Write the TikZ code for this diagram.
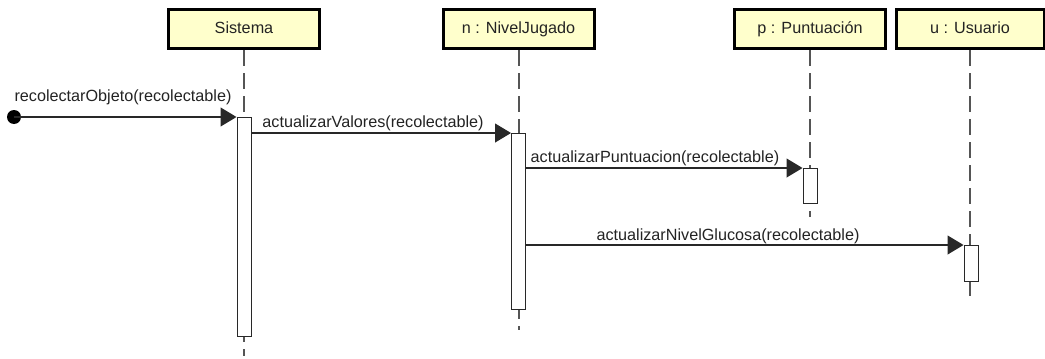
\documentclass[tikz,border=0pt]{standalone}
\usepackage{fontspec}
\setmainfont{Liberation Sans}
\usetikzlibrary{arrows.meta}
\definecolor{boxfill}{RGB}{255,255,204}
\definecolor{lifegray}{RGB}{85,85,85}
\definecolor{txt}{RGB}{35,35,35}
\definecolor{linecol}{RGB}{40,40,40}
\begin{document}
\begin{tikzpicture}[x=1pt,y=-1pt,
  objbox/.style={draw=black, line width=3pt, fill=boxfill, minimum width=151pt,
    minimum height=39pt, inner sep=0pt, text height=11.3pt, text depth=3pt,
    font=\fontsize{16.2}{18}\selectfont, text=txt},
  lifeline/.style={draw=lifegray, line width=2pt, dash pattern=on 16pt off 7pt},
  actbox/.style={draw=linecol, line width=1pt, fill=white, minimum width=14pt,
    inner sep=0pt, anchor=north},
  msg/.style={draw=linecol, line width=1.2pt, -{Triangle[length=16pt,width=19pt]}},
  msglabel/.style={font=\fontsize{16.2}{18}\selectfont, text=txt, anchor=base, inner sep=0pt},
  startdot/.style={circle, fill=black, minimum size=14pt, inner sep=0pt}]
\useasboundingbox (0,0) rectangle (1045,359);

% object boxes
\node[objbox] (sis) at (244,29) {Sistema};
\node[objbox] (niv) at (518.5,29) {n : NivelJugado};
\node[objbox] (pun) at (810,29) {p : Puntuación};
\node[objbox, minimum width=148pt] (usu) at (970,29) {u : Usuario};

% lifeline ends
\coordinate (sisend) at (244,356);
\coordinate (nivend) at (518.5,330);
\coordinate (punend) at (810,217);
\coordinate (usuend) at (970,302);

\draw[lifeline] (sis.south) -- (sisend);
\draw[lifeline] (niv.south) -- (nivend);
\draw[lifeline] (pun.south) -- (punend);
\draw[lifeline] (usu.south) -- (usuend);

% activations
\node[actbox, minimum height=219pt] (actS) at (244,117) {};
\node[actbox, minimum height=176pt] (actN) at (518.5,133) {};
\node[actbox, minimum height=35pt] (actP) at (810,168) {};
\node[actbox, minimum height=36pt] (actU) at (971,245) {};

% start
\node[startdot] (start) at (14,117) {};

% messages
\draw[msg] (start.center) -- (actS.north west);
\draw[msg] (actS.east |- actN.north) -- (actN.north west);
\draw[msg] (actN.east |- actP.north) -- (actP.north west);
\draw[msg] (actN.east |- actU.north) -- (actU.north west);

% labels
\node[msglabel] (l1) at (123,101) {recolectarObjeto(recolectable)};
\node[msglabel] (l2) at (373,127) {actualizarValores(recolectable)};
\node[msglabel] (l3) at (655,162) {actualizarPuntuacion(recolectable)};
\node[msglabel] (l4) at (728,240) {actualizarNivelGlucosa(recolectable)};
\end{tikzpicture}
\end{document}
